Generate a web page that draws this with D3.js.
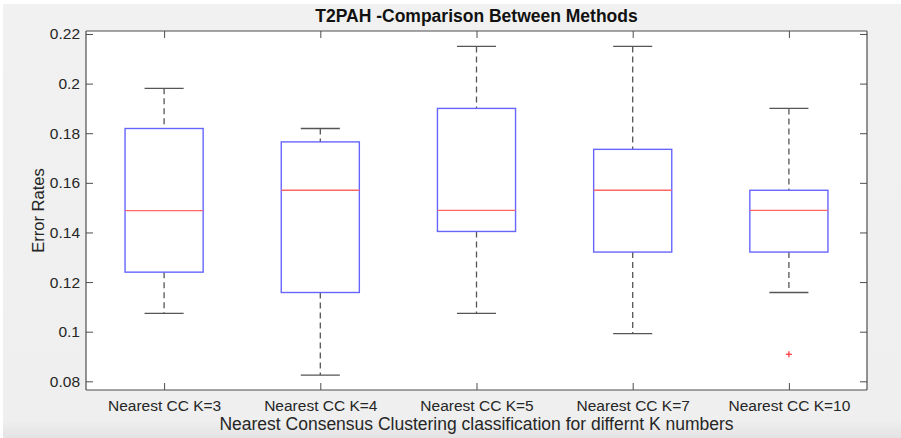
<!DOCTYPE html>
<html><head><meta charset="utf-8">
<script src="https://cdn.jsdelivr.net/npm/d3@7/dist/d3.min.js"></script>
<style>html,body{margin:0;padding:0;background:#fff;}svg{display:block;}</style>
</head><body>
<svg id="chart" width="901" height="438"></svg>
<script>
const categories = ["Nearest CC K=3","Nearest CC K=4","Nearest CC K=5","Nearest CC K=7","Nearest CC K=10"];
const lowerWhisker = [0.1074, 0.0825, 0.1074, 0.0992, 0.1158];
const q1Values     = [0.1240, 0.1158, 0.1404, 0.1321, 0.1321];
const medianValues = [0.1488, 0.1570, 0.1489, 0.1570, 0.1489];
const q3Values     = [0.1819, 0.1765, 0.1900, 0.1735, 0.1570];
const upperWhisker = [0.1981, 0.1819, 0.2150, 0.2150, 0.1900];
const outliers = [{cat: "Nearest CC K=10", value: 0.0909}];
const yTicks = [0.08, 0.1, 0.12, 0.14, 0.16, 0.18, 0.2, 0.22];
const title = "T2PAH -Comparison Between Methods";
const xLabel = "Nearest Consensus Clustering classification for differnt K numbers";
const yLabel = "Error Rates";

const svg = d3.select("#chart");
const W = 901, H = 438;
const m = {left: 86, top: 31, right: 867, bottom: 390};
const font = "Helvetica, Arial, 'Liberation Sans', sans-serif";
const textCol = "#262626", axisCol = "#4d4d4d";

// background
const defs = svg.append("defs");
const g = defs.append("linearGradient").attr("id","bg").attr("x1",0).attr("x2",0).attr("y1",0).attr("y2",1);
g.append("stop").attr("offset","0%").attr("stop-color","#f0f1f0");
g.append("stop").attr("offset","96%").attr("stop-color","#eeefee");
g.append("stop").attr("offset","100%").attr("stop-color","#e2e3e2");
svg.append("rect").attr("x",3).attr("y",4).attr("width",W-3).attr("height",H-4).attr("fill","url(#bg)");

const x = d3.scalePoint().domain(categories).range([m.left, m.right]).padding(0.5);
const step = x.step();
const y = d3.scaleLinear().domain([0.0765, 0.2212]).range([m.bottom, m.top]);

svg.append("rect").attr("x",m.left).attr("y",m.top).attr("width",m.right-m.left).attr("height",m.bottom-m.top).attr("fill","#fff");

// axes with inward ticks
const tickLen = 7;
const leftAx = svg.append("g").attr("transform",`translate(${m.left},0)`)
  .call(d3.axisLeft(y).tickValues(yTicks).tickSize(-tickLen).tickPadding(6).tickFormat(d => d3.format("")(+d.toFixed(2))));
const rightAx = svg.append("g").attr("transform",`translate(${m.right},0)`)
  .call(d3.axisRight(y).tickValues(yTicks).tickSize(-tickLen).tickFormat(""));
const bottomAx = svg.append("g").attr("transform",`translate(0,${m.bottom})`)
  .call(d3.axisBottom(x).tickSize(-tickLen).tickPadding(10));
const topAx = svg.append("g").attr("transform",`translate(0,${m.top})`)
  .call(d3.axisTop(x).tickSize(-tickLen).tickFormat(""));
[leftAx,rightAx,bottomAx,topAx].forEach(a => {
  a.select(".domain").attr("stroke",axisCol).attr("stroke-width",1.2);
  a.selectAll(".tick line").attr("stroke",axisCol).attr("stroke-width",1);
  a.selectAll(".tick text").attr("fill",textCol).attr("font-family",font).attr("font-size",15.5);
});
leftAx.select(".domain").attr("d",`M0,${m.bottom}V${m.top}`);
rightAx.select(".domain").attr("d",`M0,${m.bottom}V${m.top}`);
bottomAx.select(".domain").attr("d",`M${m.left},0H${m.right}`);
topAx.select(".domain").attr("d",`M${m.left},0H${m.right}`);

// boxes
const boxW = step/2, capW = step/4;
const data = categories.map((c,i) => ({c, lw: lowerWhisker[i], q1: q1Values[i], med: medianValues[i], q3: q3Values[i], uw: upperWhisker[i]}));
const bg = svg.append("g").selectAll("g").data(data).join("g");
bg.append("line").attr("x1",d=>x(d.c)).attr("x2",d=>x(d.c)).attr("y1",d=>y(d.uw)).attr("y2",d=>y(d.q3))
  .attr("stroke","#555").attr("stroke-width",1.3).attr("stroke-dasharray","6,4");
bg.append("line").attr("x1",d=>x(d.c)).attr("x2",d=>x(d.c)).attr("y1",d=>y(d.q1)).attr("y2",d=>y(d.lw))
  .attr("stroke","#555").attr("stroke-width",1.3).attr("stroke-dasharray","6,4");
bg.append("line").attr("x1",d=>x(d.c)-capW/2).attr("x2",d=>x(d.c)+capW/2).attr("y1",d=>y(d.uw)).attr("y2",d=>y(d.uw))
  .attr("stroke","#555").attr("stroke-width",1.3);
bg.append("line").attr("x1",d=>x(d.c)-capW/2).attr("x2",d=>x(d.c)+capW/2).attr("y1",d=>y(d.lw)).attr("y2",d=>y(d.lw))
  .attr("stroke","#555").attr("stroke-width",1.3);
bg.append("rect").attr("x",d=>x(d.c)-boxW/2).attr("width",boxW).attr("y",d=>y(d.q3)).attr("height",d=>y(d.q1)-y(d.q3))
  .attr("fill","none").attr("stroke","#6666ff").attr("stroke-width",1.4);
bg.append("line").attr("x1",d=>x(d.c)-boxW/2).attr("x2",d=>x(d.c)+boxW/2).attr("y1",d=>y(d.med)).attr("y2",d=>y(d.med))
  .attr("stroke","#ff6666").attr("stroke-width",1.4);

// outliers
const og = svg.append("g").selectAll("g").data(outliers).join("g")
  .attr("transform",d=>`translate(${x(d.cat)},${y(d.value)})`);
og.append("line").attr("x1",-3).attr("x2",3).attr("stroke","#ff3333").attr("stroke-width",1.2);
og.append("line").attr("y1",-3).attr("y2",3).attr("stroke","#ff3333").attr("stroke-width",1.2);

// labels
svg.append("text").attr("x",(m.left+m.right)/2).attr("y",22).attr("text-anchor","middle")
  .attr("font-family",font).attr("font-weight","bold").attr("font-size",17.5).attr("fill","#111").text(title);
svg.append("text").attr("x",(m.left+m.right)/2).attr("y",430).attr("text-anchor","middle")
  .attr("font-family",font).attr("font-size",17.5).attr("fill",textCol).text(xLabel);
svg.append("text").attr("transform",`translate(44,${(m.top+m.bottom)/2}) rotate(-90)`).attr("text-anchor","middle")
  .attr("font-family",font).attr("font-size",16.5).attr("fill",textCol).text(yLabel);
</script>
</body></html>
